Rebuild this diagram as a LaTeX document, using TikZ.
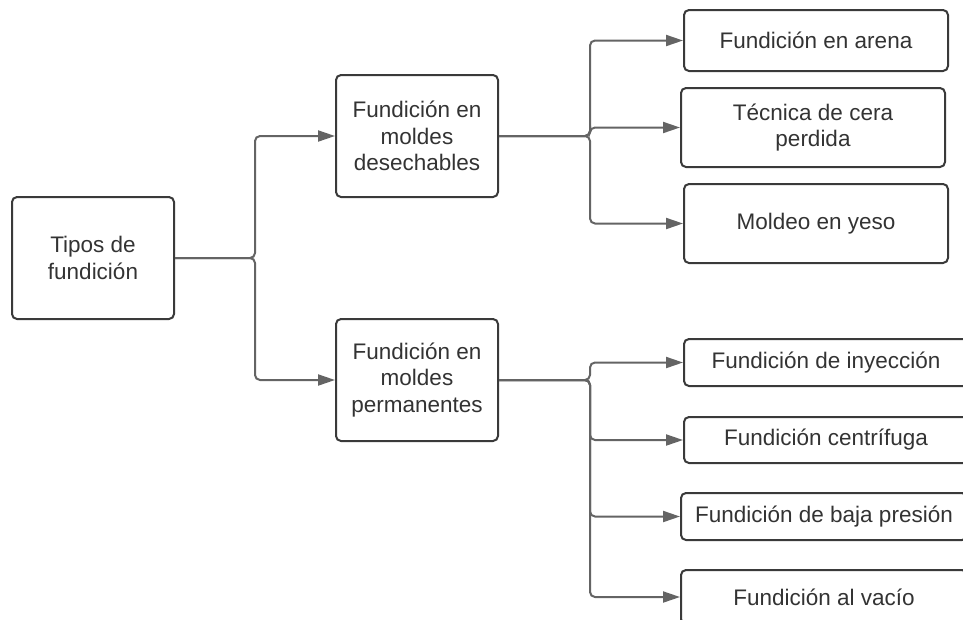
\documentclass[tikz,border=0pt]{standalone}
\usepackage{fontspec}
\setmainfont{Liberation Sans}
\usetikzlibrary{arrows.meta}
\definecolor{txt}{HTML}{333333}
\definecolor{bord}{HTML}{3A3A3A}
\definecolor{lin}{HTML}{646464}
\begin{document}
\begin{tikzpicture}[x=1pt,y=-1pt,
  box/.style={draw=bord, line width=2pt, rounded corners=5pt, text=txt,
    font=\fontsize{22.5}{26.5}\selectfont, align=center, inner sep=0pt},
  conn/.style={draw=lin, line width=2pt, rounded corners=5pt,
    -{Triangle[length=17pt,width=11pt]}}]
\useasboundingbox (0,0) rectangle (963,619);
\fill[white] (0,0) rectangle (963,619);
\clip (0,0) rectangle (963,619);

\node[box, minimum width=162pt, minimum height=122pt] (tipos) at (93,258) {Tipos de\\fundición};
\node[box, minimum width=162pt, minimum height=122pt] (m1) at (417,136) {Fundición en\\moldes\\desechables};
\node[box, minimum width=162pt, minimum height=122pt] (m2) at (417,380) {Fundición en\\moldes\\permanentes};

\node[box, minimum width=264pt, minimum height=61pt] (t1) at (816,40.5) {Fundición en arena};
\node[box, minimum width=264pt, minimum height=79pt] (t2) at (813,127.5) {Técnica de cera\\perdida};
\node[box, minimum width=264pt, minimum height=79pt] (t3) at (816,223.5) {Moldeo en yeso};

\node[box, minimum width=284pt, minimum height=47pt] (b1) at (826,362.5) {Fundición de inyección};
\node[box, minimum width=284pt, minimum height=46pt] (b2) at (826,440) {Fundición centrífuga};
\node[box, minimum width=286pt, minimum height=47pt] (b3) at (824,516.5) {Fundición de baja presión};
\node[box, minimum width=286pt, minimum height=54pt] (b4) at (824,597) {Fundición al vacío};

\coordinate (bus0) at (255,0);
\coordinate (bus1) at (590,0);
\coordinate (bus2) at (590,0);

\draw[conn] (tipos.east) -- (bus0 |- tipos.east) |- (m1.west);
\draw[conn] (tipos.east) -- (bus0 |- tipos.east) |- (m2.west);

\draw[conn] (m1.east) -- (bus1 |- m1.east) |- (t1.west);
\draw[conn] (m1.east) -- (bus1 |- m1.east) |- (t2.west);
\draw[conn] (m1.east) -- (bus1 |- m1.east) |- (t3.west);

\draw[conn] (m2.east) -- (bus2 |- m2.east) |- (b1.west);
\draw[conn] (m2.east) -- (bus2 |- m2.east) |- (b2.west);
\draw[conn] (m2.east) -- (bus2 |- m2.east) |- (b3.west);
\draw[conn] (m2.east) -- (bus2 |- m2.east) |- (b4.west);
\end{tikzpicture}
\end{document}
